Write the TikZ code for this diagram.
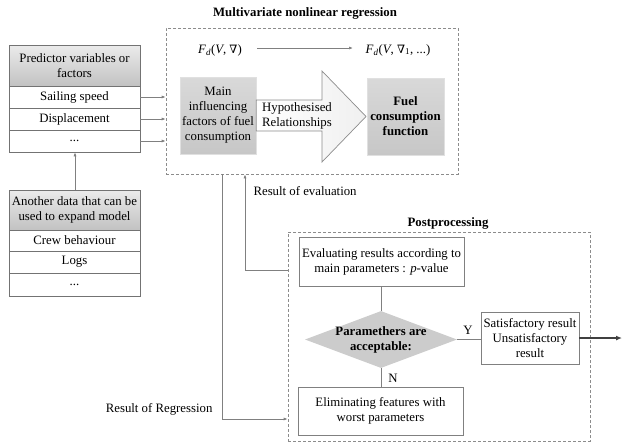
\documentclass[tikz,border=0pt]{standalone}
\usepackage{fontspec}
\setmainfont{Liberation Serif}
\newfontfamily\symfont{DejaVu Serif}
\usetikzlibrary{arrows.meta,shapes.geometric,calc}
\newcommand{\nablasym}{{\symfont\fontsize{11.5}{15}\selectfont ∇}}
\begin{document}
\begin{tikzpicture}[x=1pt,y=-1pt,
  font=\fontsize{12.8}{15}\selectfont,
  ln/.style={draw=black!50, line width=0.7pt},
  arr/.style={ln,-{Latex[length=4pt,width=3pt]}},
  cell/.style={draw=black!55, line width=0.7pt, fill=white, minimum width=131pt, inner sep=0pt, align=center},
  hdr/.style={cell, top color=black!8, bottom color=black!24},
  gbox/.style={draw=black!12, top color=black!15, bottom color=black!22, inner sep=0pt, align=center},
  wbox/.style={draw=black!50, line width=0.7pt, fill=white, inner sep=0pt, align=center},
  dbox/.style={draw=black!45, dash pattern=on 3pt off 2pt, line width=0.7pt, inner sep=0pt},
  ttl/.style={font=\fontsize{12.8}{15}\selectfont\bfseries}
]
\useasboundingbox (0,0) rectangle (623,445);

% titles
\node[ttl] (t1) at (305,13) {Multivariate nonlinear regression};
\node[ttl] (t2) at (448,223) {Postprocessing};

% dashed boxes
\node[dbox, minimum width=292pt, minimum height=146pt] (reg) at (312,101) {};
\node[dbox, minimum width=302pt, minimum height=209pt] (post) at (439,336.5) {};

% table 1
\node[hdr, minimum height=41pt] (h1) at (74.5,65.5) {Predictor variables or\\factors};
\node[cell, minimum height=22pt] (r1) at (74.5,97) {Sailing speed};
\node[cell, minimum height=22pt] (r2) at (74.5,119) {Displacement};
\node[cell, minimum height=22pt] (r3) at (74.5,141) {...};

% table 2
\node[hdr, minimum height=40pt] (h2) at (74.5,210) {Another data that can be\\used to expand model};
\node[cell, minimum height=21pt] (s1) at (74.5,240.5) {Crew behaviour};
\node[cell, minimum height=22pt] (s2) at (74.5,262) {Logs};
\node[cell, minimum height=23pt] (s3) at (74.5,284.5) {...};

% arrows from table 1
\foreach \r in {r1,r2,r3} \draw[arr] (\r.east) -- (reg.west |- \r.east);
\draw[arr] (h2.north -| 75,0) -- (r3.south -| 75,0);

% formulas
\node (f1) at (220,50) {\textit{F\textsubscript{d}}(\textit{V}, \nablasym)};
\node (f2) at (398,50) {\textit{F\textsubscript{d}}(\textit{V}, \nablasym\textsubscript{1}, ...)};
\draw[arr] (257,48) coordinate (fa) -- (353,48) coordinate (fb);

% main box
\node[gbox, minimum width=76pt, minimum height=77pt] (main) at (218,115.5) {Main\\influencing\\factors of fuel\\consumption};
% big arrow
\draw[draw=black!45, line width=0.7pt, left color=white, right color=black!6]
  (main.east |- 0,100) -- (322,100) -- (322,71) -- (366,116.5) -- (322,162) -- (322,131) -- (main.east |- 0,131) -- cycle;
\node[align=center] (hyp) at (297,116) {Hypothesised\\Relationships};
% fuel box
\node[gbox, minimum width=77pt, minimum height=77pt, font=\fontsize{12.8}{15}\selectfont\bfseries] (fuel) at (405.5,116.5) {Fuel\\consumption\\function};

% postprocessing
\node[wbox, minimum width=165pt, minimum height=49pt] (eval) at (381.5,261.5) {Evaluating results according to\\main parameters : \textit{p}-value};
\node[diamond, fill=black!20, minimum width=152pt, minimum height=57pt, inner sep=0pt, aspect=2.67] (dec) at (381,339.5) {};
\node[align=center, font=\fontsize{12.8}{15}\selectfont\bfseries] (dect) at (381,339.5) {Paramethers are\\acceptable:};
\node[wbox, minimum width=98pt, minimum height=52pt] (sat) at (530,338) {Satisfactory result\\Unsatisfactory\\result};
\node[wbox, minimum width=165pt, minimum height=48pt] (elim) at (380.5,411) {Eliminating features with\\worst parameters};

\draw[ln] (eval.south -| dec.north) -- (dec.north);
\draw[ln] (dec.east) -- (sat.west |- dec.east);
\draw[ln] (dec.south) -- (elim.north -| dec.south);
\node (Y) at (468,330) {Y};
\node (N) at (393,378) {N};

\coordinate (out) at (622,338);
\draw[draw=black!75, line width=2pt, -{Latex[length=6pt,width=5pt]}] (sat.east) -- (out);

% feedback lines
\coordinate (c1) at (245,270);
\draw[arr] (post.west |- c1) -- (c1) -- (reg.south -| c1);
\node[anchor=west] (lev) at (250,191) {Result of evaluation};
\coordinate (c2) at (222,419);
\draw[arr] (reg.south -| c2) -- (c2) -- (post.west |- c2);
\node[anchor=east] (lrg) at (216,409) {Result of Regression};
\end{tikzpicture}
\end{document}
